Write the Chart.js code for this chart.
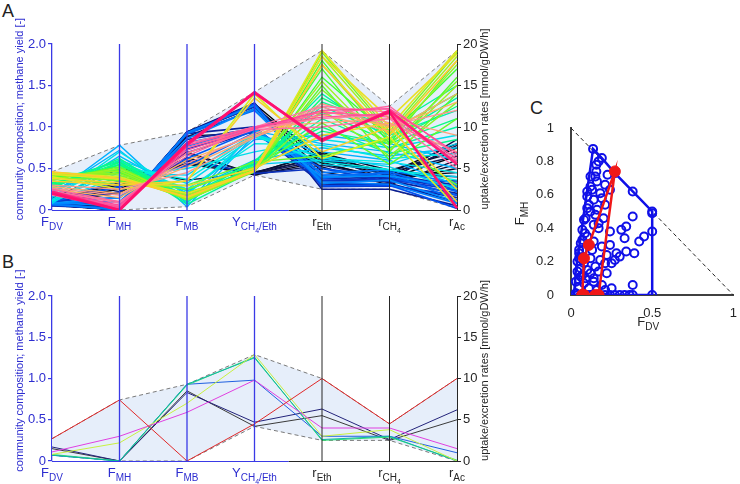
<!DOCTYPE html>
<html>
<head>
<meta charset="utf-8">
<script src="https://cdn.jsdelivr.net/npm/chart.js@4.4.1/dist/chart.umd.min.js"></script>
<style>
  body { margin: 0; background: #fff; }
  #wrap { position: relative; width: 740px; height: 484px; overflow: hidden; font-family: "Liberation Sans", Arial, sans-serif; }
  canvas { position: absolute; }
  .letter { position: absolute; font-size: 18px; color: #222; line-height: 1; }
</style>
</head>
<body>
<div id="wrap">
  <div class="letter" style="left:2px;top:2px">A</div>
  <div class="letter" style="left:2px;top:253px">B</div>
  <div class="letter" style="left:530px;top:99px">C</div>
  <canvas id="chartA" width="500" height="240" style="left:0;top:0;width:500px;height:240px"></canvas>
  <canvas id="chartB" width="500" height="240" style="left:0;top:251px;width:500px;height:240px"></canvas>
  <canvas id="chartC" width="240" height="250" style="left:500px;top:90px;width:240px;height:250px"></canvas>
</div>
<script>
// axes of the parallel plots: main letter + subscript (digits become a second subscript level)
const axisMain = ["F", "F", "F", "Y", "r", "r", "r"];
const axisSub = ["DV", "MH", "MB", "CH4/Eth", "Eth", "CH4", "Ac"];
const leftTitle = "community composition; methane yield [-]";
const rightTitle = "uptake/excretion rates [mmol/gDW/h]";

// rows: [F_DV, F_MH, F_MB, Y_CH4/Eth, r_Eth, r_CH4, r_Ac]  (rates in mmol/gDW/h)
const linesBlack = [
  [0.06, 0.00, 0.94, 1.28, 6.0, 4.2, 7.5],
  [0.08, 0.00, 0.92, 1.25, 5.6, 3.8, 6.5],
  [0.10, 0.20, 0.70, 0.43, 6.5, 4.5, 8.0],
  [0.12, 0.25, 0.63, 0.42, 5.8, 3.5, 5.0],
  [0.15, 0.30, 0.55, 0.44, 7.0, 4.0, 4.5],
  [0.14, 0.50, 0.36, 0.45, 6.8, 4.8, 7.0],
  [0.06, 0.00, 0.94, 1.26, 4.6, 3.3, 5.5],
  [0.09, 0.02, 0.89, 0.93, 5.2, 3.0, 6.0],
  [0.11, 0.33, 0.56, 0.46, 6.2, 4.4, 4.0],
  [0.07, 0.05, 0.88, 1.22, 6.6, 3.6, 8.5],
  [0.13, 0.28, 0.59, 0.44, 6.0, 4.6, 6.5],
  [0.10, 0.22, 0.68, 0.43, 5.4, 3.8, 7.8],
];
const linesNavy = [
  [0.06, 0.00, 0.94, 1.29, 3.0, 3.2, 1.0],
  [0.07, 0.00, 0.93, 1.27, 2.5, 2.5, 0.5],
  [0.08, 0.00, 0.92, 1.00, 3.5, 3.5, 2.0],
  [0.10, 0.05, 0.85, 0.98, 4.0, 4.2, 3.0],
  [0.09, 0.22, 0.69, 0.95, 3.2, 3.0, 1.5],
  [0.05, 0.02, 0.93, 1.24, 3.8, 3.9, 2.6],
  [0.12, 0.28, 0.60, 0.44, 5.0, 3.4, 3.5],
  [0.07, 0.01, 0.92, 1.27, 2.8, 2.9, 1.8],
  [0.11, 0.15, 0.74, 0.96, 3.6, 3.7, 2.4],
];
const linesBlue = [
  [0.08, 0.00, 0.92, 1.28, 2.9, 3.0, 0.2],
  [0.10, 0.28, 0.62, 0.96, 5.0, 4.0, 1.8],
  [0.12, 0.35, 0.53, 0.93, 3.8, 4.6, 2.2],
  [0.06, 0.02, 0.92, 1.20, 4.2, 4.4, 1.2],
  [0.09, 0.10, 0.81, 0.97, 4.5, 4.8, 3.2],
  [0.07, 0.00, 0.93, 1.26, 3.4, 3.1, 0.8],
  [0.09, 0.05, 0.86, 1.22, 3.2, 3.6, 1.0],
  [0.08, 0.15, 0.77, 0.99, 4.0, 4.1, 2.8],
];
const linesCyan = [
  [0.18, 0.78, 0.04, 0.90, 7.0, 6.0, 3.0],
  [0.20, 0.72, 0.08, 0.95, 8.0, 7.0, 5.0],
  [0.15, 0.65, 0.20, 0.85, 9.0, 8.0, 6.0],
  [0.22, 0.55, 0.23, 0.60, 7.5, 6.5, 7.5],
  [0.25, 0.50, 0.25, 0.55, 6.0, 5.5, 8.0],
  [0.13, 0.45, 0.42, 0.92, 5.5, 4.8, 4.0],
  [0.08, 0.60, 0.32, 0.88, 6.5, 5.2, 2.5],
  [0.10, 0.40, 0.50, 0.70, 8.5, 7.5, 9.0],
  [0.12, 0.70, 0.18, 0.92, 6.2, 5.8, 4.5],
  [0.17, 0.58, 0.25, 0.80, 7.8, 6.2, 6.8],
  [0.11, 0.52, 0.37, 0.90, 5.8, 4.9, 3.6],
];
const linesAqua = [
  [0.30, 0.60, 0.10, 0.55, 12.5, 9.0, 12.0],
  [0.28, 0.55, 0.17, 0.58, 14.0, 8.5, 13.5],
  [0.33, 0.50, 0.17, 0.52, 11.0, 7.5, 10.0],
  [0.35, 0.58, 0.07, 0.48, 13.0, 10.0, 15.0],
  [0.26, 0.62, 0.12, 0.60, 10.0, 6.8, 8.5],
  [0.31, 0.45, 0.24, 0.56, 9.5, 8.0, 11.0],
  [0.29, 0.57, 0.14, 0.53, 11.8, 8.2, 12.5],
  [0.32, 0.54, 0.14, 0.50, 13.5, 9.5, 14.0],
];
const linesGreen = [
  [0.40, 0.45, 0.15, 0.47, 16.0, 9.0, 17.0],
  [0.42, 0.40, 0.18, 0.46, 18.0, 8.0, 18.0],
  [0.38, 0.48, 0.14, 0.50, 17.0, 7.0, 16.0],
  [0.44, 0.35, 0.21, 0.47, 15.0, 6.0, 14.0],
  [0.36, 0.52, 0.12, 0.49, 10.5, 5.5, 11.0],
  [0.40, 0.30, 0.30, 0.58, 6.5, 8.5, 3.0],
  [0.45, 0.42, 0.13, 0.46, 19.0, 9.5, 19.0],
  [0.39, 0.36, 0.25, 0.52, 14.5, 7.8, 15.5],
  [0.43, 0.44, 0.13, 0.48, 12.0, 6.5, 13.0],
  [0.41, 0.47, 0.12, 0.47, 17.5, 8.5, 17.5],
  [0.37, 0.50, 0.13, 0.51, 15.5, 7.2, 15.0],
  [0.44, 0.38, 0.18, 0.48, 18.5, 9.2, 18.5],
];
const linesYellow = [
  [0.40, 0.25, 0.35, 1.40, 6.2, 8.8, 0.3],
  [0.45, 0.40, 0.15, 0.48, 19.2, 10.0, 19.2],
  [0.43, 0.37, 0.20, 0.47, 18.5, 11.0, 18.8],
  [0.38, 0.33, 0.29, 0.50, 9.0, 10.5, 2.5],
  [0.35, 0.30, 0.35, 1.35, 7.0, 10.0, 1.0],
  [0.46, 0.38, 0.16, 0.47, 17.5, 9.0, 18.0],
];
const linesOrange = [
  [0.25, 0.15, 0.60, 0.90, 12.0, 10.0, 13.0],
  [0.28, 0.20, 0.52, 0.88, 11.5, 9.5, 14.0],
  [0.22, 0.10, 0.68, 1.00, 10.5, 11.0, 9.0],
  [0.30, 0.25, 0.45, 0.87, 12.8, 10.5, 7.0],
  [0.26, 0.18, 0.56, 0.92, 12.4, 10.2, 12.0],
];
const linesPink = [
  [0.20, 0.05, 0.75, 0.98, 11.0, 11.5, 6.0],
  [0.18, 0.02, 0.80, 1.00, 12.5, 11.8, 5.5],
  [0.23, 0.08, 0.69, 0.97, 10.0, 11.0, 5.0],
  [0.25, 0.10, 0.65, 1.00, 11.5, 12.5, 6.5],
  [0.21, 0.04, 0.75, 0.99, 11.8, 11.2, 5.8],
  [0.19, 0.03, 0.78, 1.00, 11.2, 11.6, 6.2],
  [0.22, 0.06, 0.72, 0.98, 12.0, 12.2, 6.8],
];
const linesRed = [
  [0.22, 0.00, 0.78, 1.42, 8.3, 12.0, 5.5],
  [0.20, 0.00, 0.80, 1.41, 8.5, 11.8, 0.2],
];

// panel B: the selected communities
const bBlack   = [0.15, 0.00, 0.85, 0.42, 5.5, 2.5, 5.0];
const bNavy    = [0.17, 0.00, 0.83, 0.47, 6.3, 2.6, 6.2];
const bBlue    = [0.07, 0.00, 0.93, 0.98, 3.0, 3.0, 1.0];
const bGreen   = [0.08, 0.00, 0.92, 1.26, 2.5, 2.9, 0.1];
const bTeal    = [0.07, 0.00, 0.93, 1.25, 2.6, 3.0, 0.0];
const bYellow  = [0.08, 0.22, 0.70, 1.29, 3.0, 3.8, 0.0];
const bMagenta = [0.11, 0.30, 0.59, 0.98, 4.0, 4.0, 1.5];
const bRed     = [0.27, 0.74, 0.00, 0.45, 10.0, 4.5, 10.0];

// panel C: all feasible compositions (F_DV, F_MH)
const cloudDV = [0.136,0.19,0.17,0.156,0.156,0.12,0.15,0.225,0.27,0.16,0.21,0.10,0.13,0.18,0.24,0.38,0.10,0.14,0.19,0.11,0.16,0.21,0.12,0.09,0.15,0.17,0.20,0.38,0.50,0.50,
  0.07,0.086,0.14,0.17,0.24,0.31,0.34,0.33,0.42,0.45,0.50,0.06,0.07,0.05,0.14,0.19,0.24,0.10,0.13,0.28,0.34,0.39,0.30,0.22,
  0.04,0.08,0.12,0.15,0.18,0.21,0.25,0.27,0.06,0.10,0.04,0.06,0.12,0.17,0.22,0.09,0.14,0.03,0.08,0.14,0.19,0.25,0.38,0.05,0.11,0.16,0.21,
  0.04,0.06,0.10,0.12,0.15,0.18,0.21,0.24,0.27,0.30,0.33,0.36,0.38,0.50,0.03,0.05,0.05,0.07,0.08,0.10,0.12,0.07,0.05];
const cloudMH = [0.875,0.82,0.80,0.78,0.74,0.71,0.71,0.72,0.73,0.68,0.66,0.62,0.63,0.61,0.63,0.62,0.59,0.57,0.58,0.54,0.51,0.54,0.50,0.46,0.48,0.43,0.46,0.47,0.50,0.49,
  0.39,0.37,0.42,0.40,0.38,0.39,0.41,0.34,0.32,0.35,0.38,0.31,0.27,0.25,0.32,0.29,0.30,0.35,0.27,0.25,0.26,0.25,0.23,0.24,
  0.20,0.19,0.22,0.17,0.21,0.19,0.19,0.21,0.16,0.15,0.14,0.11,0.13,0.14,0.13,0.10,0.10,0.08,0.07,0.08,0.06,0.04,0.06,0.05,0.04,0.03,0.03,
  0.00,0.00,0.00,0.00,0.00,0.00,0.00,0.00,0.00,0.00,0.00,0.00,0.00,0.00,0.01,0.27,0.22,0.33,0.45,0.52,0.65,0.12,0.09];
const hullDV = [0.02, 0.50, 0.50, 0.50, 0.38, 0.27, 0.19, 0.136, 0.03, 0.02, 0.02];
const hullMH = [0.00, 0.00, 0.38, 0.50, 0.62, 0.73, 0.82, 0.875, 0.15, 0.02, 0.00];
const selHullDV = [0.07, 0.08, 0.11, 0.27, 0.17, 0.07];
const selHullMH = [0.00, 0.22, 0.30, 0.74, 0.00, 0.00];

const BLUE = "#2d2dd0";
const AXBLUE = "#3a3ae6";
const DARK = "#262626";
const FONT = '"Liberation Sans", Arial, sans-serif';
Chart.defaults.font.family = FONT;

function hex(c) { return [1, 3, 5].map((i) => parseInt(c.slice(i, i + 2), 16)); }
function mix(a, b, t) {
  const p = hex(a), q = hex(b);
  return "rgb(" + p.map((v, i) => Math.round(v + (q[i] - v) * t)).join(",") + ")";
}
// rates share the left axis: 20 mmol/gDW/h <-> 2.0
function toLeft(row) { return row.map((v, i) => (i >= 4 ? v / 10 : v)); }

function drawLabel(ctx, x, y, main, sub, color) {
  const parts = [[main, 13, 0]];
  sub.match(/\d+|\D+/g).forEach((s) => {
    const d = /\d/.test(s);
    parts.push([s, d ? 7 : 10, d ? 7 : 4]);
  });
  let w = 0;
  parts.forEach((p) => { ctx.font = p[1] + "px " + FONT; w += ctx.measureText(p[0]).width; });
  let cx = x - w / 2;
  ctx.fillStyle = color;
  ctx.textBaseline = "alphabetic";
  ctx.textAlign = "left";
  parts.forEach((p) => {
    ctx.font = p[1] + "px " + FONT;
    ctx.fillText(p[0], cx, y + p[2]);
    cx += ctx.measureText(p[0]).width;
  });
}

const parallelDecor = {
  id: "parallelDecor",
  afterDatasetsDraw(chart) {
    // one vertical axis per variable: blue for composition/yield, dark for rates
    const { ctx, chartArea: a, scales } = chart;
    const xs = scales.x;
    ctx.save();
    axisMain.forEach((_, i) => {
      if (i === 0 || i === axisMain.length - 1) return;
      const px = xs.getPixelForTick(i);
      ctx.lineWidth = i <= 3 ? 1.3 : 1;
      ctx.strokeStyle = i <= 3 ? AXBLUE : DARK;
      ctx.beginPath(); ctx.moveTo(px, a.top); ctx.lineTo(px, a.bottom); ctx.stroke();
    });
    ctx.restore();
  },
  afterDraw(chart) {
    const { ctx, chartArea: a, scales } = chart;
    const xs = scales.x;
    ctx.save();
    // bottom axis line: blue under the composition part, dark under the rates
    const mid = (xs.getPixelForTick(3) + xs.getPixelForTick(4)) / 2 + 0.5;
    ctx.lineWidth = 1.2;
    ctx.strokeStyle = AXBLUE;
    ctx.beginPath(); ctx.moveTo(a.left, a.bottom + 0.5); ctx.lineTo(mid, a.bottom + 0.5); ctx.stroke();
    ctx.strokeStyle = DARK;
    ctx.lineWidth = 1;
    ctx.beginPath(); ctx.moveTo(mid, a.bottom + 0.5); ctx.lineTo(a.right, a.bottom + 0.5); ctx.stroke();
    axisMain.forEach((m, i) => {
      drawLabel(ctx, xs.getPixelForTick(i), a.bottom + 16, m, axisSub[i], i <= 3 ? BLUE : DARK);
    });
    const cy = (a.top + a.bottom) / 2 - 8;
    ctx.font = "11px " + FONT;
    ctx.textAlign = "center";
    ctx.textBaseline = "middle";
    ctx.translate(20, cy); ctx.rotate(-Math.PI / 2);
    ctx.fillStyle = BLUE; ctx.fillText(leftTitle, 0, 0);
    ctx.restore();
    ctx.save();
    ctx.font = "11px " + FONT;
    ctx.textAlign = "center";
    ctx.textBaseline = "middle";
    ctx.translate(485, cy); ctx.rotate(-Math.PI / 2);
    ctx.fillStyle = DARK; ctx.fillText(rightTitle, 0, 0);
    ctx.restore();
  },
};

function parallelChart(id, groups, topPad) {
  const rows = groups.flatMap((g) => g.rows);
  const plotted = rows.map(toLeft);
  const upper = axisMain.map((_, k) => Math.max(...plotted.map((r) => r[k])));
  const lower = axisMain.map((_, k) => Math.min(...plotted.map((r) => r[k])));
  const env = { borderColor: "#7a7a7a", borderDash: [4, 3], borderWidth: 1, pointRadius: 0, tension: 0 };
  const datasets = [
    Object.assign({ data: upper, fill: "+1", backgroundColor: "#e6eefa", order: 100000 }, env),
    Object.assign({ data: lower, fill: false, order: 99999 }, env),
  ];
  let n = 0;
  groups.forEach((g) => {
    g.rows.forEach((r, j) => {
      const t = g.rows.length > 1 ? j / (g.rows.length - 1) : 0;
      datasets.push({
        data: toLeft(r),
        borderColor: mix(g.from, g.to, t),
        borderWidth: g.width,
        pointRadius: 0,
        tension: 0,
        fill: false,
        order: 5000 - n++,
      });
    });
  });
  return new Chart(document.getElementById(id), {
    type: "line",
    data: { labels: axisMain.map((m, i) => m + axisSub[i]), datasets },
    options: {
      responsive: false,
      animation: false,
      events: [],
      layout: { padding: { top: topPad } },
      plugins: { legend: { display: false }, tooltip: { enabled: false } },
      scales: {
        x: {
          ticks: { display: false },
          grid: { display: false },
          border: { display: false },
          afterFit: (s) => { s.height = 30; },
        },
        y: {
          position: "left", min: 0, max: 2,
          ticks: { stepSize: 0.5, color: BLUE, font: { size: 13 }, padding: 2, callback: (v) => (v === 0 ? "0" : v.toFixed(1)) },
          grid: { drawOnChartArea: false, tickLength: 4, color: AXBLUE, lineWidth: 1.2 },
          border: { color: AXBLUE, width: 1.3 },
          afterFit: (s) => { s.width = 52; },
        },
        y2: {
          position: "right", min: 0, max: 20,
          ticks: { stepSize: 5, color: DARK, font: { size: 13 }, padding: 2 },
          grid: { drawOnChartArea: false, tickLength: 4, color: DARK },
          border: { color: DARK },
          afterFit: (s) => { s.width = 43; },
        },
      },
    },
    plugins: [parallelDecor],
  });
}

parallelChart("chartA", [
  { rows: linesBlack, from: "#000000", to: "#101a60", width: 1.4 },
  { rows: linesNavy, from: "#0a1a8a", to: "#0a3ad0", width: 1.7 },
  { rows: linesBlue, from: "#0050f0", to: "#0090ff", width: 1.7 },
  { rows: linesCyan, from: "#00b0ff", to: "#00f0e0", width: 1.4 },
  { rows: linesAqua, from: "#00f0b0", to: "#10ff70", width: 1.4 },
  { rows: linesGreen, from: "#40ff30", to: "#a8f020", width: 1.4 },
  { rows: linesYellow, from: "#d8f020", to: "#ffc830", width: 1.6 },
  { rows: linesOrange, from: "#ffb060", to: "#ff9090", width: 1.3 },
  { rows: linesPink, from: "#ff80a8", to: "#ff4898", width: 1.3 },
  { rows: linesRed, from: "#ff1f7a", to: "#ff1070", width: 2.6 },
], 44);

parallelChart("chartB", [
  { rows: [bBlack], from: "#3a3a3a", to: "#3a3a3a", width: 1 },
  { rows: [bNavy], from: "#23237a", to: "#23237a", width: 1 },
  { rows: [bBlue], from: "#2060e0", to: "#2060e0", width: 1 },
  { rows: [bGreen], from: "#30e070", to: "#30e070", width: 1 },
  { rows: [bTeal], from: "#10b8a0", to: "#10b8a0", width: 1 },
  { rows: [bYellow], from: "#c8f040", to: "#c8f040", width: 1 },
  { rows: [bMagenta], from: "#e040e0", to: "#e040e0", width: 1 },
  { rows: [bRed], from: "#e02828", to: "#e02828", width: 1 },
], 45);

// ---- panel C ----
const selected = [bBlack, bNavy, bBlue, bGreen, bTeal, bYellow, bMagenta, bRed];
const CBLUE = "#1010e8";
const CRED = "#f01818";
const pts = (xs, ys) => xs.map((x, i) => ({ x, y: ys[i] }));
const plainTick = (v) => String(+v.toFixed(2));

const ternaryDecor = {
  id: "ternaryDecor",
  afterDraw(chart) {
    const { ctx, chartArea: a } = chart;
    ctx.save();
    drawLabel(ctx, (a.left + a.right) / 2 - 4, a.bottom + 31, "F", "DV", DARK);
    ctx.translate(a.left - 47, (a.top + a.bottom) / 2 + 2);
    ctx.rotate(-Math.PI / 2);
    drawLabel(ctx, 0, 0, "F", "MH", DARK);
    ctx.restore();
  },
};

new Chart(document.getElementById("chartC"), {
  type: "scatter",
  data: {
    datasets: [
      { data: pts(selHullDV, selHullMH), showLine: true, borderColor: CRED, borderWidth: 2.5, pointRadius: 0, order: 1 },
      { data: selected.map((r) => ({ x: r[0], y: r[1] })), pointRadius: 5.5, backgroundColor: CRED, borderColor: CRED, borderWidth: 1, order: 0 },
      { data: pts(hullDV, hullMH), showLine: true, borderColor: CBLUE, borderWidth: 2.5, pointRadius: 0, order: 2 },
      { data: pts(cloudDV, cloudMH), pointRadius: 4, borderWidth: 2, borderColor: CBLUE, backgroundColor: "rgba(0,0,0,0)", order: 3 },
      { data: [{ x: 0, y: 1 }, { x: 1, y: 0 }], showLine: true, borderColor: "#222", borderWidth: 1, borderDash: [4, 3], pointRadius: 0, order: 4 },
    ],
  },
  options: {
    responsive: false,
    animation: false,
    events: [],
    layout: { padding: { top: 38, right: 0 } },
    plugins: { legend: { display: false }, tooltip: { enabled: false } },
    scales: {
      x: {
        type: "linear", min: 0, max: 1,
        ticks: { stepSize: 0.5, color: DARK, font: { size: 13 }, padding: 3, callback: plainTick },
        grid: { display: false },
        border: { color: "#404040", width: 2 },
        afterFit: (s) => { s.height = 45; },
      },
      y: {
        type: "linear", min: 0, max: 1,
        ticks: { stepSize: 0.2, color: DARK, font: { size: 13 }, padding: 9, callback: plainTick },
        grid: { display: false },
        border: { color: "#404040", width: 2 },
        afterFit: (s) => { s.width = 71; },
      },
    },
  },
  plugins: [ternaryDecor],
});
</script>
</body>
</html>
